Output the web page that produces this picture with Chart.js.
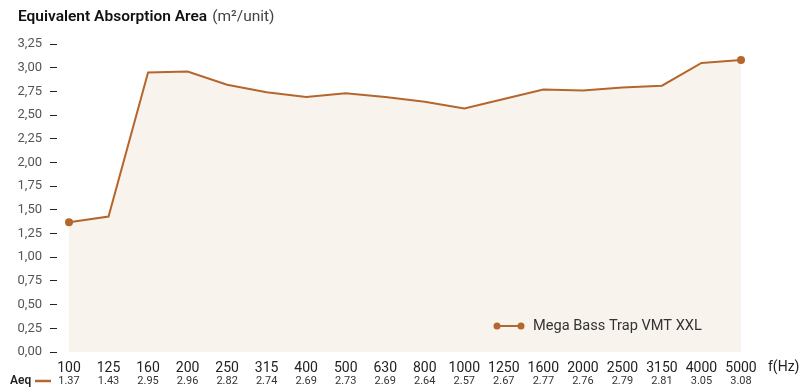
<!DOCTYPE html>
<html>
<head>
<meta charset="utf-8">
<script src="https://cdn.jsdelivr.net/npm/chart.js@4.4.1/dist/chart.umd.min.js"></script>
<style>
  html, body { margin: 0; padding: 0; background: #ffffff; }
  #wrap { position: relative; width: 799px; height: 392px; }
</style>
</head>
<body>
<div id="wrap"><canvas id="aeqChart" width="799" height="392"></canvas></div>
<script>
// Third-octave band centre frequencies
const frequencies = ['100', '125', '160', '200', '250', '315', '400', '500', '630',
  '800', '1000', '1250', '1600', '2000', '2500', '3150', '4000', '5000'];

// Equivalent absorption area per unit (m²)
const aeqValues = [1.37, 1.43, 2.95, 2.96, 2.82, 2.74, 2.69, 2.73, 2.69,
  2.64, 2.57, 2.67, 2.77, 2.76, 2.79, 2.81, 3.05, 3.08];

const seriesName = 'Mega Bass Trap VMT XXL';
const yTicks = [0, 0.25, 0.5, 0.75, 1, 1.25, 1.5, 1.75, 2, 2.25, 2.5, 2.75, 3, 3.25];

const BROWN = '#b4662c';
const FONT = 'Roboto, "Noto Sans", sans-serif';

// title, legend, value row and axis caption
const extrasPlugin = {
  id: 'extras',
  afterDraw(chart) {
    const ctx = chart.ctx;
    const xs = chart.scales.x;
    ctx.save();

    // title
    ctx.textBaseline = 'middle';
    ctx.textAlign = 'left';
    ctx.fillStyle = '#111';
    ctx.font = '600 15.5px ' + FONT;
    const title = 'Equivalent Absorption Area';
    ctx.fillText(title, 18, 17);
    const tw = ctx.measureText(title).width;
    ctx.font = '400 15.5px ' + FONT;
    ctx.fillStyle = '#444';
    ctx.fillText('(m²/unit)', 18 + tw + 5, 17);

    // axis caption
    ctx.font = '400 14px ' + FONT;
    ctx.fillStyle = '#222';
    ctx.fillText('f(Hz)', 768, 367);

    // value row
    ctx.font = '400 11px ' + FONT;
    ctx.fillStyle = '#333';
    ctx.textAlign = 'center';
    aeqValues.forEach((v, i) => {
      ctx.fillText(v.toFixed(2), xs.getPixelForValue(i), 381);
    });

    ctx.textAlign = 'left';
    ctx.font = '600 12px ' + FONT;
    ctx.fillStyle = '#222';
    ctx.fillText('Aeq', 10, 381);
    ctx.strokeStyle = BROWN;
    ctx.lineWidth = 2.5;
    ctx.beginPath();
    ctx.moveTo(35, 381);
    ctx.lineTo(51, 381);
    ctx.stroke();

    // legend
    ctx.lineWidth = 2;
    ctx.beginPath();
    ctx.moveTo(497, 326);
    ctx.lineTo(521, 326);
    ctx.stroke();
    ctx.fillStyle = BROWN;
    [497, 521].forEach(px => {
      ctx.beginPath();
      ctx.arc(px, 326, 3.5, 0, Math.PI * 2);
      ctx.fill();
    });
    ctx.font = '400 14.6px ' + FONT;
    ctx.fillStyle = '#333';
    ctx.fillText(seriesName, 533, 326);

    ctx.restore();
  }
};

const lastIdx = aeqValues.length - 1;

new Chart(document.getElementById('aeqChart'), {
  type: 'line',
  data: {
    labels: frequencies,
    datasets: [{
      label: seriesName,
      data: aeqValues,
      borderColor: BROWN,
      backgroundColor: '#f9f3ee',
      borderWidth: 2,
      fill: 'origin',
      tension: 0,
      pointRadius: aeqValues.map((v, i) => (i === 0 || i === lastIdx) ? 4 : 0),
      pointBackgroundColor: BROWN,
      pointBorderWidth: 0
    }]
  },
  options: {
    responsive: false,
    animation: false,
    layout: { padding: { left: 0, right: 58, top: 44, bottom: 0 } },
    plugins: {
      legend: { display: false },
      tooltip: { enabled: false }
    },
    scales: {
      x: {
        offset: false,
        grid: { display: false, drawTicks: false },
        border: { display: false },
        ticks: {
          padding: 8,
          color: '#222',
          font: { family: FONT, size: 14 },
          maxRotation: 0,
          autoSkip: false
        },
        afterFit(scale) { scale.height = 40; }
      },
      y: {
        min: 0,
        max: 3.25,
        afterBuildTicks(scale) {
          scale.ticks = yTicks.map(v => ({ value: v }));
        },
        grid: {
          drawOnChartArea: false,
          drawTicks: true,
          tickLength: 19,
          tickColor: '#222',
          tickWidth: 1,
          tickBorderDash: [7, 40]
        },
        border: { display: false },
        ticks: {
          padding: 8,
          color: '#555',
          font: { family: FONT, size: 13 },
          callback: v => v.toFixed(2).replace('.', ',')
        },
        afterFit(scale) { scale.width = 69; }
      }
    }
  },
  plugins: [extrasPlugin]
});
</script>
</body>
</html>
